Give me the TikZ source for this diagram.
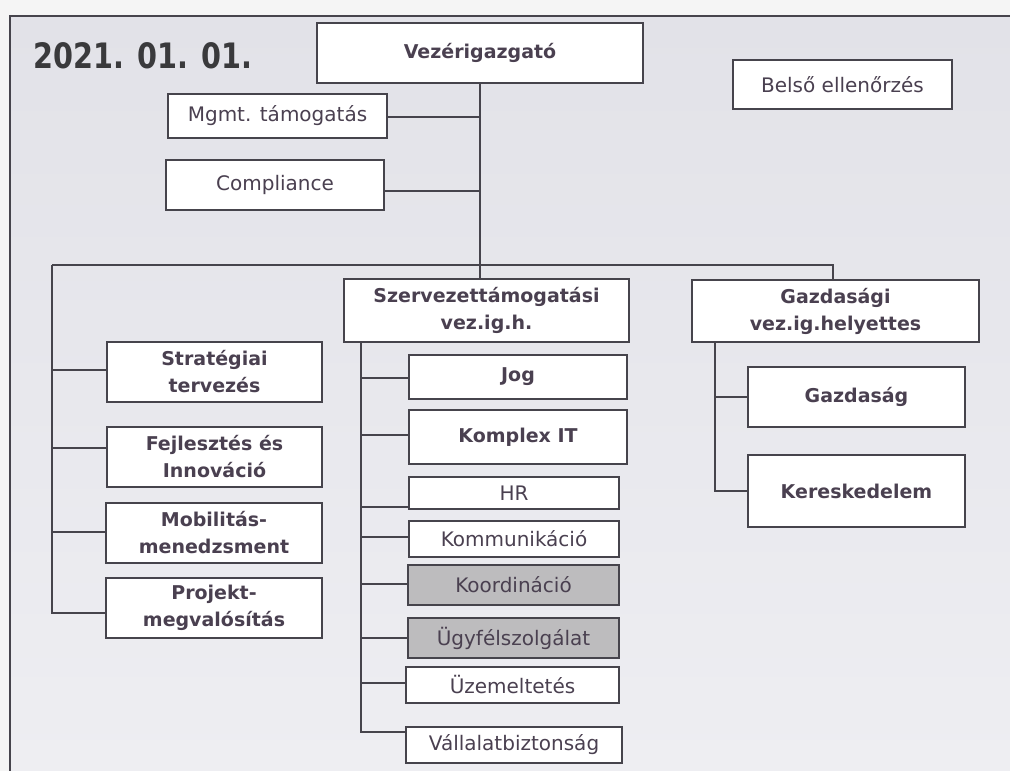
\documentclass[tikz,border=0pt]{standalone}
\usepackage{fontspec}
\usepackage{graphicx}
\setmainfont{DejaVu Sans}
\usetikzlibrary{calc}
\definecolor{bgTop}{HTML}{E2E2E8}
\definecolor{bgBot}{HTML}{EEEEF2}
\definecolor{outC}{HTML}{F5F5F5}
\definecolor{lineC}{HTML}{46444C}
\definecolor{txtC}{HTML}{4A4050}
\definecolor{dateC}{HTML}{3A3A3C}
\definecolor{grayC}{HTML}{BDBCBE}
\begin{document}
\begin{tikzpicture}[x=1pt,y=-1pt,
  box/.style={draw=lineC, line width=2pt, fill=white, inner sep=0pt, align=center,
    text=txtC, font=\fontsize{20}{24}\selectfont},
  bbox/.style={box, font=\bfseries\fontsize{19}{27}\selectfont},
  graybox/.style={box, fill=grayC},
  conn/.style={draw=lineC, line width=2pt}]
\useasboundingbox (0,0) rectangle (1010,771);
\fill[outC] (0,0) rectangle (1010,771);
\shade[top color=bgTop, bottom color=bgBot] (10,16) rectangle (1010,771);
\draw[lineC, line width=2pt] (10,771) -- (10,16) -- (1010,16);

% date
\node[anchor=base west, text=dateC, inner sep=0pt] (date) at (33,68)
  {\scalebox{0.82}[1]{\bfseries\fontsize{35}{35}\selectfont 2021. 01. 01.}};

% top level
\node[bbox, minimum width=326pt, minimum height=60pt] (vez) at (480,53) {Vezérigazgató};
\node[box, minimum width=219pt, minimum height=49pt] (bel) at (842.5,84.5) {Belső ellenőrzés};
\node[box, minimum width=219pt, minimum height=44pt] (mgmt) at (277.5,116) {Mgmt. támogatás};
\node[box, minimum width=218pt, minimum height=50pt] (comp) at (275,185) {Compliance};

% second level
\node[bbox, minimum width=285pt, minimum height=63pt] (szerv) at (486.5,310.5) {Szervezettámogatási\\vez.ig.h.};
\node[bbox, minimum width=287pt, minimum height=62pt] (gazd0) at (835.5,311) {Gazdasági\\vez.ig.helyettes};

% left column
\node[bbox, minimum width=215pt, minimum height=60pt] (strat) at (214.5,372) {Stratégiai\\tervezés};
\node[bbox, minimum width=215pt, minimum height=60pt] (fejl) at (214.5,457) {Fejlesztés és\\Innováció};
\node[bbox, minimum width=216pt, minimum height=60pt] (mob) at (214,533) {Mobilitás-\\menedzsment};
\node[bbox, minimum width=216pt, minimum height=60pt] (proj) at (214,608) {Projekt-\\megvalósítás};

% middle column
\node[bbox, minimum width=218pt, minimum height=44pt] (jog) at (518,377) {Jog};
\node[bbox, minimum width=218pt, minimum height=54pt] (kit) at (518,437) {Komplex IT};
\node[box, minimum width=210pt, minimum height=32pt] (hr) at (514,493) {HR};
\node[box, minimum width=210pt, minimum height=36pt] (komm) at (514,539) {Kommunikáció};
\node[graybox, minimum width=211pt, minimum height=40pt] (koord) at (513.5,585) {Koordináció};
\node[graybox, minimum width=211pt, minimum height=40pt] (ugyf) at (513.5,638) {Ügyfélszolgálat};
\node[box, minimum width=213pt, minimum height=36pt] (uzem) at (512.5,685) {Üzemeltetés};
\node[box, minimum width=216pt, minimum height=36pt] (vall) at (514,745) {Vállalatbiztonság};

% right column
\node[bbox, minimum width=217pt, minimum height=60pt] (gazd) at (856.5,397) {Gazdaság};
\node[bbox, minimum width=217pt, minimum height=72pt] (ker) at (856.5,491) {Kereskedelem};

% connectors
\coordinate (busL) at (52,265);
\coordinate (busR) at (833,265);
\draw[conn] (vez.south) -- (vez.south |- szerv.north);
\draw[conn] ($(mgmt.east)+(0,1)$) -- ($(mgmt.east -| vez.south)+(0,1)$);
\draw[conn] ($(comp.east)+(0,6)$) -- ($(comp.east -| vez.south)+(0,6)$);
\draw[conn] (busL) -- (busR) -- (busR |- gazd0.north);

% left column connectors
\coordinate (pin) at ($(proj.west)+(0,5)$);
\draw[conn] (busL) -- (busL |- pin) -- (pin);
\foreach \n/\d in {strat/-2,fejl/-9,mob/-1}
  \draw[conn] ($(\n.west)+(0,\d)$) -- ($(busL |- \n.west)+(0,\d)$);

% middle column connectors
\coordinate (mtop) at ($(szerv.south west)+(18,0)$);
\coordinate (vallin) at ($(vall.west)+(0,-13)$);
\draw[conn] (mtop) -- (mtop |- vallin) -- (vallin);
\foreach \n/\d in {jog/1,kit/-2,hr/14,komm/-2,koord/-1,ugyf/0,uzem/-2}
  \draw[conn] ($(\n.west)+(0,\d)$) -- ($(mtop |- \n.west)+(0,\d)$);

% right column connectors
\coordinate (rtop) at ($(gazd0.south west)+(24,0)$);
\draw[conn] (rtop) -- (rtop |- ker.west) -- (ker.west);
\draw[conn] (rtop |- gazd.west) -- (gazd.west);
\end{tikzpicture}
\end{document}
